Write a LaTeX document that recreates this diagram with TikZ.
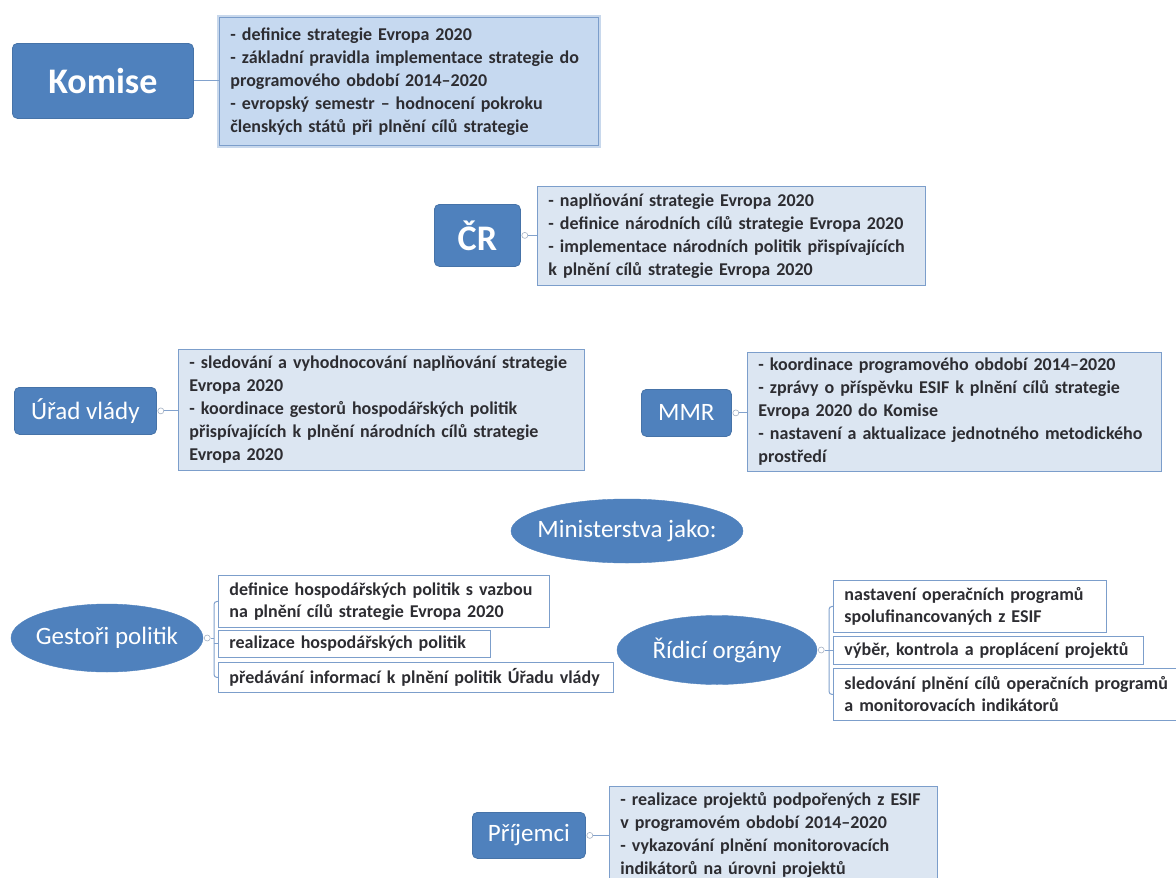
\documentclass[tikz,border=0pt]{standalone}
\usepackage{fontspec}
\setmainfont{Carlito}
\usetikzlibrary{shapes.geometric}
\definecolor{mainblue}{RGB}{79,129,189}
\definecolor{mainborder}{RGB}{70,115,168}
\definecolor{detfill}{RGB}{220,230,242}
\definecolor{komfill}{RGB}{198,217,240}
\definecolor{detborder}{RGB}{124,158,203}
\definecolor{glowc}{RGB}{200,216,236}
\definecolor{txt}{RGB}{45,45,50}
\definecolor{knobc}{RGB}{165,178,196}
\definecolor{linkc}{RGB}{130,162,205}
\newcommand{\zerowd}[1]{\makebox[0pt][c]{#1}}
\begin{document}
\begin{tikzpicture}[x=1pt,y=-1pt,
 mainbox/.style={draw=mainborder, fill=mainblue, rounded corners=5pt, text=white, inner sep=0pt, line width=0.8pt, anchor=north west},
 mainell/.style={ellipse, draw=mainblue, fill=mainblue, text=white, inner sep=0pt, font=\fontsize{25}{29}\selectfont},
 detail/.style={draw=detborder, fill=detfill, line width=0.9pt, text=txt, align=left, anchor=north west, inner xsep=11pt, inner ysep=0pt, font=\bfseries\fontsize{18}{23}\selectfont},
 itembox/.style={draw=detborder, fill=white, line width=0.9pt, text=txt, align=left, anchor=north west, inner xsep=11pt, inner ysep=0pt, font=\bfseries\fontsize{18}{22}\selectfont},
 link/.style={draw=linkc, line width=1pt},
 knob/.style={circle, draw=knobc, fill=white, minimum size=6pt, inner sep=0pt, line width=0.6pt}]

\useasboundingbox[fill=white] (0,0) rectangle (1176,878);

% ---------- Komise ----------
\node[mainbox, minimum width=181, minimum height=75, font=\bfseries\fontsize{36}{40}\selectfont] (kom) at (12,43) {Komise};
\node[detail, fill=komfill, minimum width=379, minimum height=128, text width=357,
      preaction={draw=glowc, line width=5pt}] (komd) at (219,17)
 {- definice strategie Evropa 2020\\
  - základní pravidla implementace strategie do\\
  programového období 2014–2020\\
  - evropský semestr – hodnocení pokroku\\
  členských států při plnění cílů strategie};
\draw[link] (kom.east) -- (kom.east -| komd.west);

% ---------- ČR ----------
\node[mainbox, minimum width=86, minimum height=62, font=\bfseries\fontsize{36}{40}\selectfont] (cr) at (434,204) {ČR};
\node[detail, minimum width=388, minimum height=99, text width=366] (crd) at (537,186)
 {- naplňování strategie Evropa 2020\\
  - definice národních cílů strategie Evropa 2020\\
  - implementace národních politik přispívajících\\
  k plnění cílů strategie Evropa 2020};
\node[knob] (crk) at ([xshift=4pt]cr.east) {};
\draw[link] (crk.east) -- (crk.east -| crd.west);

% ---------- Úřad vlády ----------
\node[mainbox, minimum width=142, minimum height=47, font=\fontsize{25}{29}\selectfont] (uv) at (14,387) {Úřad vlády};
\node[detail, minimum width=406, minimum height=121, text width=384] (uvd) at (178,349)
 {- sledování a vyhodnocování naplňování strategie\\
  Evropa 2020\\
  - koordinace gestorů hospodářských politik\\
  přispívajících k plnění národních cílů strategie\\
  Evropa 2020};
\node[knob] (uvk) at ([xshift=4pt]uv.east) {};
\draw[link] (uvk.east) -- (uvk.east -| uvd.west);

% ---------- MMR ----------
\node[mainbox, minimum width=90, minimum height=47, font=\fontsize{25}{29}\selectfont] (mmr) at (641,389) {MMR};
\node[detail, minimum width=414, minimum height=119, text width=392] (mmrd) at (747,352)
 {- koordinace programového období 2014–2020\\
  - zprávy o příspěvku ESIF k plnění cílů strategie\\
  Evropa 2020 do Komise\\
  - nastavení a aktualizace jednotného metodického\\
  prostředí};
\node[knob] (mmrk) at ([xshift=4pt]mmr.east) {};
\draw[link] (mmrk.east) -- (mmrk.east -| mmrd.west);

% ---------- Ministerstva jako ----------
\node[mainell, minimum width=232, minimum height=64] (min) at (627,531) {\zerowd{Ministerstva jako:}};

% ---------- Gestoři politik ----------
\node[mainell, minimum width=192, minimum height=68] (gp) at (107,638) {\zerowd{Gestoři politik}};
\node[itembox, minimum width=331, minimum height=52, text width=309] (gp1) at (218,575)
 {definice hospodářských politik s vazbou\\
  na plnění cílů strategie Evropa 2020};
\node[itembox, minimum width=272, minimum height=27, text width=250] (gp2) at (218,630)
 {realizace hospodářských politik};
\node[itembox, minimum width=395, minimum height=30, text width=373] (gp3) at (218,662)
 {předávání informací k plnění politik Úřadu vlády};
\node[knob] (gpk) at ([xshift=4pt]gp.east) {};
\coordinate (gpb) at ([xshift=-4pt]gp2.west);
\draw[link] (gpk.east) -- (gpk.east -| gpb);
\draw[link, rounded corners=3pt] (gp1.west) -- (gp1.west -| gpb) -- (gp3.west -| gpb) -- (gp3.west);
\draw[link] (gp2.west) -- (gpb);

% ---------- Řídicí orgány ----------
\node[mainell, minimum width=200, minimum height=69] (ro) at (717,650) {\zerowd{Řídicí orgány}};
\node[itembox, minimum width=273, minimum height=52, text width=251] (ro1) at (833,580)
 {nastavení operačních programů\\
  spolufinancovaných z ESIF};
\node[itembox, minimum width=310, minimum height=28, text width=288] (ro2) at (833,636)
 {výběr, kontrola a proplácení projektů};
\node[itembox, minimum width=350, minimum height=52, text width=330] (ro3) at (833,668)
 {sledování plnění cílů operačních programů\\
  a monitorovacích indikátorů};
\node[knob] (rok) at ([xshift=4pt]ro.east) {};
\coordinate (rob) at ([xshift=-4pt]ro2.west);
\draw[link] (rok.east) -- (rok.east -| rob);
\draw[link, rounded corners=3pt] (ro1.west) -- (ro1.west -| rob) -- (ro3.west -| rob) -- (ro3.west);
\draw[link] (ro2.west) -- (rob);

% ---------- Příjemci ----------
\node[mainbox, minimum width=113, minimum height=46, font=\fontsize{25}{29}\selectfont] (pr) at (472,812) {Příjemci};
\node[detail, minimum width=328, minimum height=97, text width=306] (prd) at (609,786)
 {- realizace projektů podpořených z ESIF\\
  v programovém období 2014–2020\\
  - vykazování plnění monitorovacích\\
  indikátorů na úrovni projektů};
\node[knob] (prk) at ([xshift=4pt]pr.east) {};
\draw[link] (prk.east) -- (prk.east -| prd.west);
\end{tikzpicture}
\end{document}
